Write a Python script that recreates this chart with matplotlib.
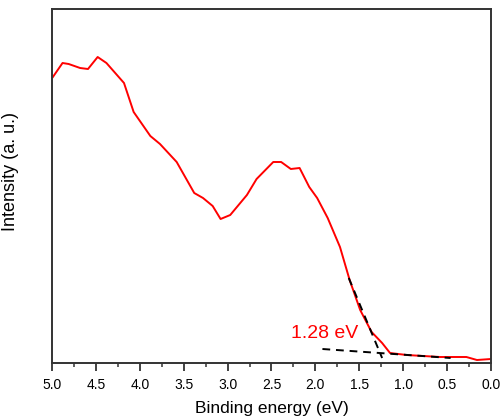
import matplotlib
matplotlib.use("Agg")
import matplotlib.pyplot as plt
from matplotlib.ticker import MultipleLocator, NullLocator
import numpy as np

# valence band spectrum (binding energy in eV, intensity in arb. units)
energy = [4.99, 4.88, 4.81, 4.68, 4.59, 4.48, 4.38, 4.26, 4.18, 4.07, 3.88,
          3.77, 3.58, 3.38, 3.28, 3.17, 3.08, 2.97, 2.78, 2.67, 2.48, 2.39,
          2.28, 2.18, 2.07, 1.98, 1.86, 1.72, 1.61, 1.49, 1.36, 1.24, 1.15,
          0.96, 0.58, 0.28, 0.16, 0.0]
intensity = [286, 300, 299, 295, 294, 306, 300, 288, 280, 251, 227,
             219, 201, 170, 165, 157, 144, 148, 168, 184, 201, 201,
             194, 195, 176, 165, 145, 116, 83, 53, 31, 20, 10,
             8, 6, 6, 3, 4]

# linear fits: leading edge and background
edge_x = [1.62, 1.24]
edge_y = [85, 5]
base_x = [1.92, 0.46]
base_y = [14, 5]
vbm = 1.28

plt.rcParams['font.family'] = ['Liberation Sans', 'DejaVu Sans']
fig = plt.figure(figsize=(5.01, 4.18), dpi=100)
ax = fig.add_axes([52/501, 1 - 363/418, (491-52)/501, (363-9)/418])

ax.plot(energy, intensity, color='red', lw=1.4, zorder=2)
ax.plot(edge_x, edge_y, color='black', lw=1.4, ls=(0, (4, 3)), zorder=3)
ax.plot(base_x, base_y, color='black', lw=1.4, ls=(0, (4, 3)), zorder=3)
ax.text(1.89, 30, f'{vbm:.2f} eV', color='red', fontsize=14,
        ha='center', va='center')

ax.set_xlim(5.0, 0.0)
ax.set_ylim(0, 354)
ax.xaxis.set_major_locator(MultipleLocator(0.5))
ax.xaxis.set_minor_locator(MultipleLocator(0.25))
ax.xaxis.set_major_formatter(plt.FuncFormatter(lambda v, p: f'{v:.1f}'))
ax.yaxis.set_major_locator(NullLocator())
ax.tick_params(axis='x', which='major', length=6, width=1.3, labelsize=10,
               color='#333333', pad=5)
ax.tick_params(axis='x', which='minor', length=3, width=1.1, color='#333333')
for s in ax.spines.values():
    s.set_linewidth(1.4)
    s.set_color('#333333')

ax.set_xlabel('Binding energy (eV)', fontsize=12.5, labelpad=6)
ax.set_ylabel('Intensity (a. u.)', fontsize=13)
ax.yaxis.set_label_coords(-0.075, 0.54)

fig.savefig('out.png', dpi=100)
